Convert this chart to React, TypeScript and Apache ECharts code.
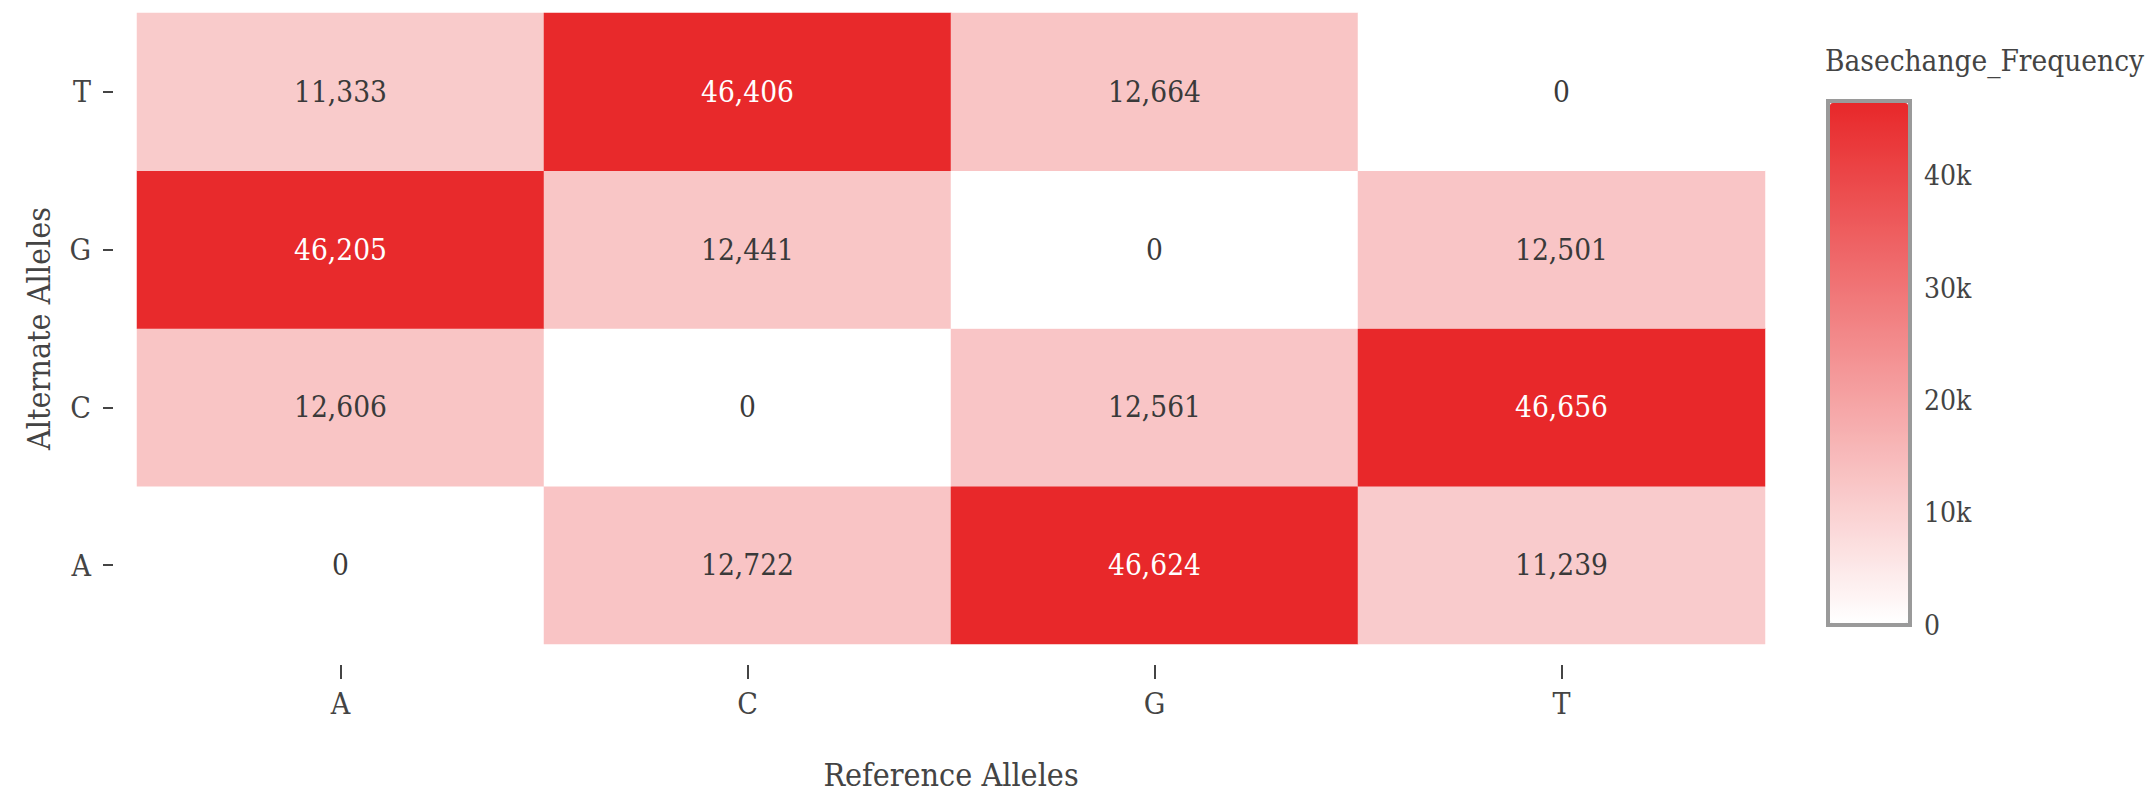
import React, { useEffect, useRef } from "react";
import * as echarts from "echarts";

const refAlleles = ["A", "C", "G", "T"];
const altAlleles = ["A", "C", "G", "T"];
// rows: alternate allele (A, C, G, T), columns: reference allele (A, C, G, T)
const rowA = [0, 12722, 46624, 11239];
const rowC = [12606, 0, 12561, 46656];
const rowG = [46205, 12441, 0, 12501];
const rowT = [11333, 46406, 12664, 0];
const colorbarTicks = [0, 10000, 20000, 30000, 40000];

const FONT = "'DejaVu Serif Condensed', 'DejaVu Serif'";
const TXT = "#444";

export default function App() {
  const ref = useRef<HTMLDivElement>(null);
  useEffect(() => {
    if (!ref.current) return;
    const chart = echarts.init(ref.current, null, { renderer: "svg" });
    const rows = [rowA, rowC, rowG, rowT];
    const all = rows.flat();
    const vmax = Math.max(...all);
    const vmin = Math.min(...all);
    const data: any[] = [];
    rows.forEach((row, yi) =>
      row.forEach((v, xi) => {
        data.push({
          value: [xi, yi, v],
          label: { color: v > vmax / 2 ? "#ffffff" : "#3a3a3a" },
        });
      })
    );
    chart.setOption({
      animation: false,
      backgroundColor: "#ffffff",
      textStyle: { fontFamily: FONT },
      title: {
        text: "Basechange_Frequency",
        left: 1825,
        top: 46,
        padding: 0,
        textStyle: { fontFamily: FONT, fontSize: 29.5, fontWeight: "normal", color: TXT },
      },
      grid: [
        { left: 137, top: 13, width: 1628, height: 638, containLabel: false },
        {
          left: 1828,
          top: 101,
          width: 82,
          height: 524,
          show: true,
          borderColor: "#9a9a9a",
          borderWidth: 4,
          backgroundColor: "transparent",
        },
      ],
      xAxis: [
        {
          type: "category",
          data: refAlleles,
          gridIndex: 0,
          position: "bottom",
          offset: 21,
          axisLine: { show: false },
          axisTick: { show: true, alignWithLabel: true, length: 14, lineStyle: { color: TXT, width: 2 } },
          axisLabel: { margin: 23, fontSize: 30, color: TXT, fontFamily: FONT },
          splitLine: { show: false },
          name: "Reference Alleles",
          nameLocation: "middle",
          nameGap: 94,
          nameTextStyle: { fontSize: 32, color: TXT, fontFamily: FONT },
        },
        { type: "value", gridIndex: 1, show: false, min: 0, max: 1 },
      ],
      yAxis: [
        {
          type: "category",
          data: altAlleles,
          gridIndex: 0,
          offset: 24,
          axisLine: { show: false },
          axisTick: { show: true, alignWithLabel: true, length: 10, lineStyle: { color: TXT, width: 2 } },
          axisLabel: { margin: 22, fontSize: 30, color: TXT, fontFamily: FONT },
          splitLine: { show: false },
          name: "Alternate Alleles",
          nameLocation: "middle",
          nameGap: 58,
          nameTextStyle: { fontSize: 32, color: TXT, fontFamily: FONT },
        },
        {
          type: "value",
          gridIndex: 1,
          position: "right",
          min: 0,
          max: vmax,
          interval: 10000,
          axisLine: { show: false },
          axisTick: { show: false },
          splitLine: { show: false },
          axisLabel: {
            margin: 14,
            fontSize: 28,
            color: TXT,
            fontFamily: FONT,
            showMaxLabel: false,
            formatter: (v: number) =>
              colorbarTicks.includes(v) ? (v === 0 ? "0" : v / 1000 + "k") : "",
          },
        },
      ],
      visualMap: {
        type: "continuous",
        seriesIndex: 0,
        min: vmin,
        max: vmax,
        calculable: false,
        hoverLink: false,
        orient: "vertical",
        left: 1830,
        top: 103,
        padding: 0,
        itemWidth: 78,
        itemHeight: 520,
        text: null,
        showLabel: false,
        inRange: { color: ["#ffffff", "#e8282a"] },
      },
      series: [
        {
          type: "heatmap",
          xAxisIndex: 0,
          yAxisIndex: 0,
          data,
          label: {
            show: true,
            fontSize: 29.5,
            fontFamily: FONT,
            formatter: (p: any) => p.value[2].toLocaleString("en-US"),
          },
          itemStyle: { borderWidth: 0 },
          emphasis: { disabled: true },
        },
      ],
    });
    return () => chart.dispose();
  }, []);
  return (
    <div
      ref={ref}
      style={{ position: "fixed", left: 0, top: 0, width: 2152, height: 796 }}
    />
  );
}
